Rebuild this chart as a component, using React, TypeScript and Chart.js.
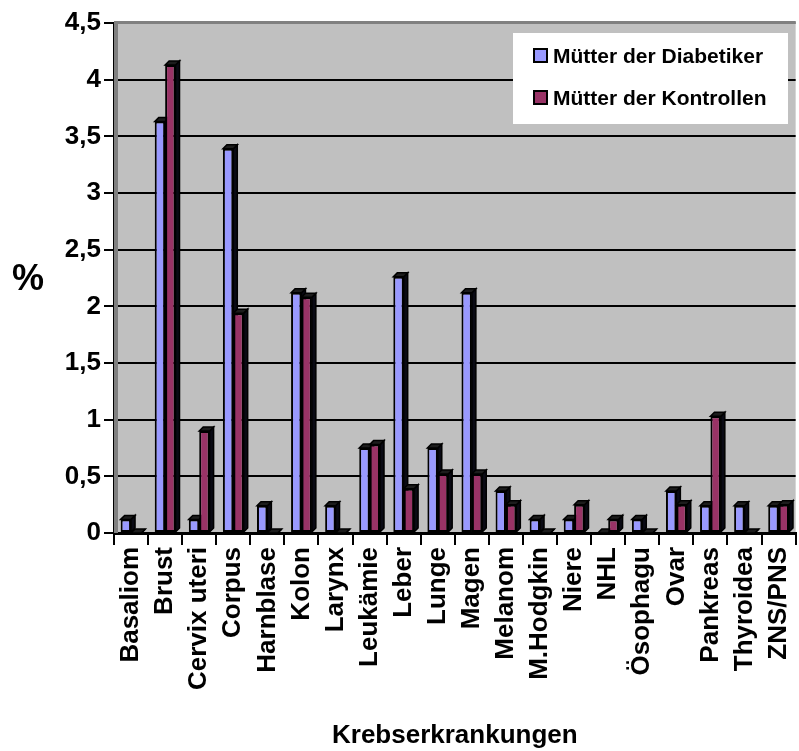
import React, { useEffect, useRef } from "react";
import { Chart, registerables } from "chart.js";

Chart.register(...registerables);

const categories = [
  "Basaliom", "Brust", "Cervix uteri", "Corpus", "Harnblase", "Kolon", "Larynx",
  "Leukämie", "Leber", "Lunge", "Magen", "Melanom", "M.Hodgkin", "Niere", "NHL",
  "Ösophagu", "Ovar", "Pankreas", "Thyroidea", "ZNS/PNS",
];
const diabetikerMuetter = [
  0.12, 3.63, 0.12, 3.39, 0.24, 2.12, 0.24, 0.75, 2.26, 0.75,
  2.12, 0.37, 0.12, 0.12, 0, 0.12, 0.37, 0.24, 0.24, 0.24,
];
const kontrollMuetter = [
  0, 4.13, 0.9, 1.94, 0, 2.08, 0, 0.78, 0.39, 0.52,
  0.52, 0.25, 0, 0.25, 0.12, 0, 0.25, 1.03, 0, 0.25,
];
const seriesNames = ["Mütter der Diabetiker", "Mütter der Kontrollen"];
const seriesColors = ["#9999FF", "#993366"];
const yTitle = "%";
const xTitle = "Krebserkrankungen";

const FONT = "'Liberation Sans', Arial, sans-serif";
const DEPTH = 4;

// Grey plot wall, back panel and pseudo-3D extrusions of the columns
const panelPlugin = {
  id: "panel3d",
  beforeDraw(chart: any) {
    const { ctx, chartArea: a } = chart;
    ctx.save();
    ctx.fillStyle = "#C0C0C0";
    ctx.fillRect(a.left, a.top - 2, a.right - a.left, a.bottom - a.top + 2);
    ctx.restore();
  },
  beforeDatasetsDraw(chart: any) {
    const { ctx, chartArea: a } = chart;
    ctx.save();
    ctx.fillStyle = "#808080";
    ctx.fillRect(a.left, a.top - 2, a.right - a.left, 3);
    ctx.fillRect(a.left, a.top - 2, 4, a.bottom - a.top + 2);
    chart.data.datasets.forEach((_: any, di: number) => {
      const meta = chart.getDatasetMeta(di);
      meta.data.forEach((bar: any) => {
        const { x, y, base, width } = bar.getProps(["x", "y", "base", "width"], true);
        const l = x - width / 2;
        const r = x + width / 2;
        ctx.lineWidth = 1.5;
        ctx.strokeStyle = "#000";
        // right side face
        ctx.beginPath();
        ctx.moveTo(r, y);
        ctx.lineTo(r + DEPTH, y - DEPTH);
        ctx.lineTo(r + DEPTH, base - DEPTH);
        ctx.lineTo(r, base);
        ctx.closePath();
        ctx.fillStyle = "#0a0a14";
        ctx.fill();
        ctx.stroke();
        // top face
        ctx.beginPath();
        ctx.moveTo(l, y);
        ctx.lineTo(l + DEPTH, y - DEPTH);
        ctx.lineTo(r + DEPTH, y - DEPTH);
        ctx.lineTo(r, y);
        ctx.closePath();
        ctx.fillStyle = "#1c1c1c";
        ctx.fill();
        ctx.stroke();
      });
    });
    ctx.restore();
  },
  afterDraw(chart: any) {
    const { ctx } = chart;
    ctx.save();
    // y axis title, upright
    ctx.fillStyle = "#000";
    ctx.font = `bold 36px ${FONT}`;
    ctx.textAlign = "center";
    ctx.textBaseline = "middle";
    ctx.fillText(yTitle, 28, 280);

    // legend box
    ctx.fillStyle = "#fff";
    ctx.fillRect(513, 33, 275, 91);
    ctx.font = `bold 21px ${FONT}`;
    ctx.textAlign = "left";
    ctx.textBaseline = "alphabetic";
    chart.data.datasets.forEach((ds: any, i: number) => {
      const top = 48 + i * 42;
      ctx.fillStyle = ds.backgroundColor;
      ctx.fillRect(534, top + 1, 13, 13);
      ctx.lineWidth = 2;
      ctx.strokeStyle = "#000";
      ctx.strokeRect(534, top + 1, 13, 13);
      ctx.fillStyle = "#000";
      ctx.fillText(ds.label, 553, top + 15);
    });
    ctx.restore();
  },
};

export default function App() {
  const canvasRef = useRef<HTMLCanvasElement | null>(null);

  useEffect(() => {
    if (!canvasRef.current) return;
    const chart = new Chart(canvasRef.current, {
      type: "bar",
      data: {
        labels: categories,
        datasets: [diabetikerMuetter, kontrollMuetter].map((values, i) => ({
          label: seriesNames[i],
          data: values,
          backgroundColor: seriesColors[i],
          borderColor: "#000",
          borderWidth: 2,
          borderSkipped: false,
          categoryPercentage: 0.61,
          barPercentage: 1,
        })),
      },
      options: {
        responsive: false,
        animation: false,
        devicePixelRatio: 1,
        layout: { padding: { left: 0, right: 8, top: 23, bottom: 0 } },
        plugins: { legend: { display: false }, tooltip: { enabled: false } },
        scales: {
          x: {
            type: "category",
            grid: {
              drawOnChartArea: false,
              drawTicks: true,
              tickLength: 12,
              color: "#000",
              lineWidth: 2,
            },
            border: { color: "#000", width: 3 },
            ticks: {
              autoSkip: false,
              maxRotation: 90,
              minRotation: 90,
              padding: 2,
              color: "#000",
              font: { family: FONT, size: 26, weight: "bold" },
            },
            title: {
              display: true,
              text: xTitle,
              color: "#000",
              padding: { top: 0, bottom: 0 },
              font: { family: FONT, size: 26, weight: "bold" },
            },
            afterFit(scale: any) {
              scale.height = 218;
            },
          },
          y: {
            min: 0,
            max: 4.5,
            grid: {
              color: (c: any) => (c.tick && c.tick.value === 4.5 ? "#808080" : "#000"),
              tickColor: "#000",
              lineWidth: 2,
              tickLength: 10,
            },
            border: { color: "#000", width: 2 },
            ticks: {
              stepSize: 0.5,
              padding: 3,
              color: "#000",
              font: { family: FONT, size: 26, weight: "bold" },
              callback: (v: any) => String(v).replace(".", ","),
            },
            afterFit(scale: any) {
              scale.width = 114;
            },
          },
        },
      },
      plugins: [panelPlugin],
    } as any);
    return () => chart.destroy();
  }, []);

  return (
    <div
      style={{
        position: "fixed",
        left: 0,
        top: 0,
        width: 799,
        height: 751,
        overflow: "hidden",
        background: "#fff",
      }}
    >
      <canvas ref={canvasRef} width={812} height={751} style={{ display: "block" }} />
    </div>
  );
}
